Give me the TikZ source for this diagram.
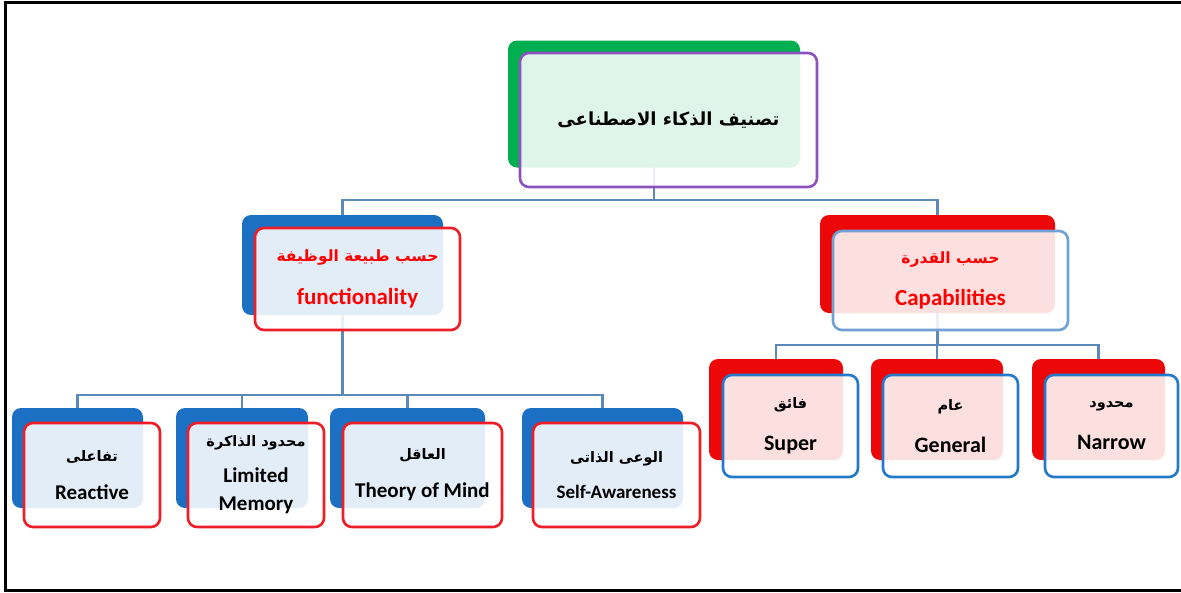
\documentclass[tikz,border=0pt]{standalone}
\usepackage{fontspec}
\setmainfont{Carlito}
\newfontfamily\arabicfont[Script=Arabic]{DejaVu Sans}
\TeXXeTstate=1
\usetikzlibrary{positioning,calc,backgrounds}
\definecolor{tileblue}{RGB}{28,112,196}
\definecolor{tilered}{RGB}{236,8,8}
\definecolor{tilegreen}{RGB}{0,176,80}
\definecolor{edgepurple}{RGB}{140,82,190}
\definecolor{edgered}{RGB}{238,30,40}
\definecolor{edgeblue}{RGB}{36,122,200}
\definecolor{edgelight}{RGB}{112,160,212}
\definecolor{linkblue}{RGB}{92,136,186}
\newcommand{\artxt}[2][14.5]{{\arabicfont\bfseries\fontsize{#1}{#1}\selectfont\beginR #2\endR}}

\begin{document}
\begin{tikzpicture}[x=1pt,y=-1pt,
  back/.style={rounded corners=9pt,inner sep=0pt},
  front/.style={draw,rounded corners=9pt,line width=2.6pt,fill=white,fill opacity=.88,
    text opacity=1,align=center,inner sep=0pt,font=\fontsize{21}{28}\bfseries},
  link/.style={draw=linkblue,line width=2.2pt}]
\useasboundingbox (0,0) rectangle (1181,592);
% frame
\draw[line width=3pt] (1181,2.5) -- (5.5,2.5) -- (5.5,590) -- (1181,590);

% root
\node[back,fill=tilegreen,minimum width=292pt,minimum height=127pt] (root-b) at (654,104) {};
\node[front,draw=edgepurple,minimum width=297pt,minimum height=134pt] (root) at (668.5,120)
  {\artxt[18]{تصنيف الذكاء الاصطناعى}};

% second level
\node[back,fill=tileblue,minimum width=201pt,minimum height=100pt] (fn-b) at (342.5,265) {};
\node[front,draw=edgered,text=red,font=\fontsize{23}{30}\bfseries,minimum width=205pt,minimum height=102pt] (fn) at (357.5,279)
  {\artxt[15.5]{حسب طبيعة الوظيفة}\\[13pt]functionality};
\node[back,fill=tilered,minimum width=235pt,minimum height=98pt] (cap-b) at (937.5,264) {};
\node[front,draw=edgelight,text=red,font=\fontsize{23}{30}\bfseries,minimum width=235pt,minimum height=99pt] (cap) at (950.5,280.5)
  {\artxt[15.5]{حسب القدرة}\\[12pt]Capabilities};

% leaves by functionality
\foreach \n/\bx/\bw/\fx/\fw/\txt in {
  rea/77.5/131/92/136/{\artxt{تفاعلى}\\[10pt]Reactive},
  lim/242/132/256/136/{\artxt{محدود الذاكرة}\\[8pt]Limited\\Memory},
  tom/407.5/155/422.5/159/{\artxt{العاقل}\\[10pt]Theory of Mind},
  sel/602.5/161/616.5/167/{\artxt{الوعى الذاتى}\\[8pt]{\fontsize{19}{24}\selectfont Self-Awareness}}}{
  \node[back,fill=tileblue,minimum width=\bw pt,minimum height=100pt] (\n-b) at (\bx,458) {};
  \node[front,draw=edgered,minimum width=\fw pt,minimum height=104pt] (\n) at (\fx,475) {\txt};
}

% leaves by capabilities
\foreach \n/\bx/\bw/\fx/\fw/\txt in {
  sup/776/134/790.5/135/{\artxt{فائق}\\[14pt]Super},
  gen/937/132/950.5/135/{\artxt{عام}\\[14pt]General},
  nar/1098.5/133/1111.5/133/{\artxt{محدود}\\[14pt]Narrow}}{
  \node[back,fill=tilered,minimum width=\bw pt,minimum height=101pt] (\n-b) at (\bx,409.5) {};
  \node[front,draw=edgeblue,font=\fontsize{22}{28}\bfseries,minimum width=\fw pt,minimum height=102pt] (\n) at (\fx,426) {\txt};
}

% connectors
\coordinate (bus-top) at (0,200);
\coordinate (bus-fn) at (0,395);
\coordinate (bus-cap) at (0,345);
\begin{scope}[on background layer]
\draw[link] (root-b.center) -- (root-b.center |- bus-top);
\foreach \n in {fn,cap} \draw[link] (root-b.center |- bus-top) -| (\n-b.center);
\draw[link] (fn-b.center) -- (fn-b.center |- bus-fn);
\foreach \n in {rea,lim,tom,sel} \draw[link] (fn-b.center |- bus-fn) -| (\n-b.center);
\draw[link] (cap-b.center) -- (cap-b.center |- bus-cap);
\foreach \n in {sup,gen,nar} \draw[link] (cap-b.center |- bus-cap) -| (\n-b.center);
\end{scope}
\end{tikzpicture}
\end{document}
